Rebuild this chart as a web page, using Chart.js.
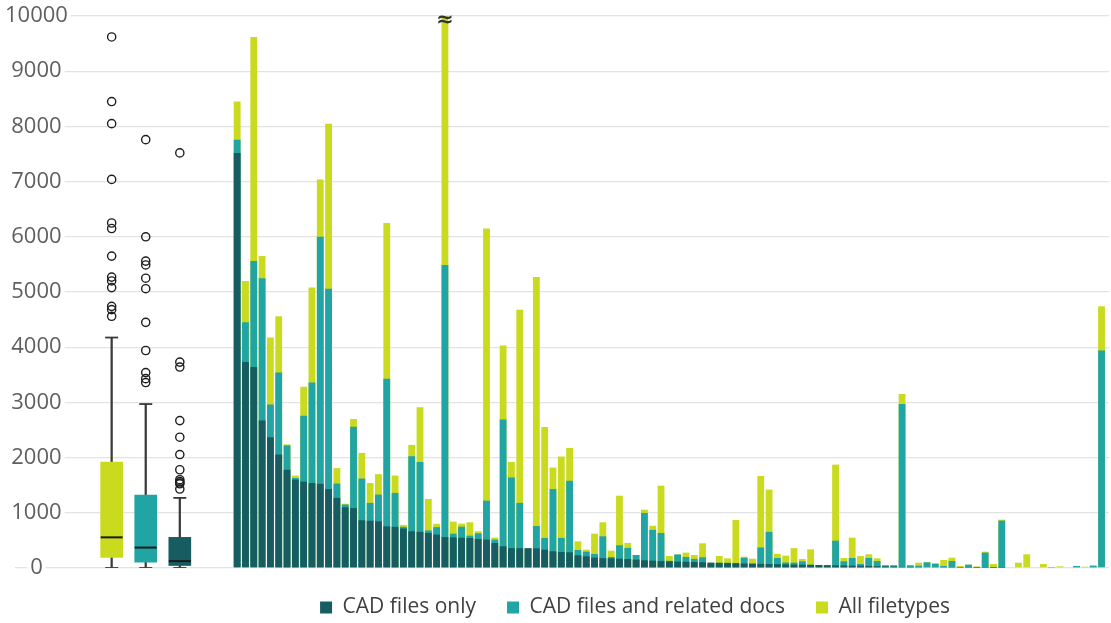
<!DOCTYPE html>
<html>
<head>
<meta charset="utf-8">
<title>Files per project</title>
<script src="https://cdn.jsdelivr.net/npm/chart.js@4.4.0/dist/chart.umd.min.js"></script>
<style>
  html, body { margin: 0; padding: 0; background: #ffffff; }
  #wrap { width: 1111px; height: 623px; position: relative; }
</style>
</head>
<body>
<div id="wrap"><canvas id="chart"></canvas></div>
<script>
// Series names (legend order)
const seriesNames = ['CAD files only', 'CAD files and related docs', 'All filetypes'];

// Per project: number of files found for each selection (sorted by "CAD files only")
const cadOnly = [
  7520, 3730, 3640, 2670, 2370, 2055, 1780, 1600, 1565, 1540,
  1525, 1430, 1270, 1100, 1085, 865, 855, 845, 755, 745,
  715, 665, 655, 635, 605, 560, 556, 548, 544, 526,
  514, 453, 393, 360, 358, 357, 355, 332, 302, 290,
  284, 230, 211, 187, 178, 175, 169, 163, 151, 139,
  133, 125, 120, 115, 112, 108, 104, 95, 92, 90,
  86, 82, 78, 75, 72, 70, 66, 62, 60, 57,
  54, 50, 48, 45, 42, 40, 37, 33, 30, 27,
  20, 18, 15, 12, 10, 8, 6, 5, 4, 3,
  2, 2, 1, 0, 0, 0, 0, 0, 0, 0,
  0, 0, 0, 0, 0
];
const cadDocs = [
  7760, 4450, 5560, 5250, 2960, 3540, 2220, 1630, 2760, 3360,
  6000, 5060, 1530, 1150, 2560, 1620, 1180, 1330, 3430, 1360,
  745, 2025, 1920, 680, 740, 5490, 622, 749, 586, 628,
  1220, 514, 2690, 1640, 1180, 357, 760, 545, 1430, 545,
  1580, 326, 296, 254, 574, 199, 411, 363, 236, 997,
  690, 634, 130, 245, 200, 165, 194, 95, 97, 95,
  90, 185, 80, 372, 655, 181, 100, 97, 121, 60,
  54, 50, 495, 121, 181, 72, 181, 125, 48, 48,
  2970, 48, 42, 103, 79, 36, 127, 5, 60, 3,
  278, 2, 858, 12, 0, 0, 12, 0, 6, 0,
  0, 36, 0, 42, 3940
];
const allTypes = [
  8450, 5200, 9620, 5650, 4175, 4560, 2240, 1675, 3285, 5080,
  7040, 8050, 1810, 1165, 2700, 2085, 1540, 1700, 6250, 1675,
  780, 2230, 2910, 1250, 800, 10000, 840, 804, 828, 665,
  6150, 550, 4030, 1920, 4680, 357, 5270, 2555, 1820, 2020,
  2175, 483, 332, 622, 828, 314, 1310, 453, 236, 1057,
  765, 1492, 217, 245, 278, 236, 447, 95, 218, 175,
  870, 205, 169, 1668, 1420, 257, 224, 360, 163, 338,
  54, 50, 1873, 181, 550, 218, 248, 175, 48, 48,
  3150, 48, 97, 103, 79, 145, 187, 36, 60, 30,
  296, 72, 876, 12, 97, 248, 12, 72, 6, 30,
  0, 36, 24, 42, 4740
];
// Projects whose bar runs past the top of the axis
const brokenBars = [26];

// Box plot summaries: All filetypes, CAD files and related docs, CAD files only
const boxWhiskerLow = [0, 0, 0];
const boxQ1 = [190, 105, 45];
const boxMedian = [555, 370, 125];
const boxQ3 = [1920, 1320, 555];
const boxWhiskerHigh = [4175, 2970, 1270];
const outliersAll = [9620, 8450, 8050, 7040, 6250, 6150, 5650, 5270, 5200, 5080, 4740, 4680, 4560];
const outliersDocs = [7760, 6000, 5560, 5490, 5250, 5060, 4450, 3940, 3540, 3430, 3360];
const outliersOnly = [7520, 3730, 3640, 2670, 2370, 2055, 1780, 1600, 1565, 1540, 1525, 1430];

// Y axis ticks
const yTicks = [0, 1000, 2000, 3000, 4000, 5000, 6000, 7000, 8000, 9000, 10000];

// ---- layout / style ----
const COLORS = { only: '#165c61', docs: '#20a4a4', all: '#c9da1f' };
const BOX_SLOTS = [-14.1, -10.0, -5.9];   // x positions of the three box plots
const X_MIN = -25.73, X_MAX = 105.9;
const FONT = '"Open Sans", "DejaVu Sans", sans-serif';

const projects = cadOnly.map((_, i) => i + 1);
const pts = (arr) => arr.map((v, i) => ({ x: projects[i], y: v }));
const boxColors = [COLORS.all, COLORS.docs, COLORS.only];

const outlierPts = []
  .concat(outliersAll.map(v => ({ x: BOX_SLOTS[0], y: v })))
  .concat(outliersDocs.map(v => ({ x: BOX_SLOTS[1], y: v })))
  .concat(outliersOnly.map(v => ({ x: BOX_SLOTS[2], y: v })));
const capPts = BOX_SLOTS.map((x, i) => ({ x, y: boxWhiskerHigh[i] }))
  .concat(BOX_SLOTS.map((x, i) => ({ x, y: boxWhiskerLow[i] })));

// Moves the legend row sideways/up after layout
const legendNudge = {
  id: 'legendNudge',
  afterLayout(chart, args, opts) {
    const lg = chart.legend;
    if (!lg) return;
    lg.left += opts.dx; lg.right += opts.dx;
    lg.top += opts.dy; lg.bottom += opts.dy;
  }
};

// Break sign on top of bars that exceed the axis
const breakMark = {
  id: 'breakMark',
  afterDatasetsDraw(chart) {
    const { ctx, scales: { x, y } } = chart;
    ctx.save();
    ctx.font = 'bold 21px "DejaVu Sans", sans-serif';
    ctx.fillStyle = '#333333';
    ctx.textAlign = 'center';
    ctx.textBaseline = 'middle';
    brokenBars.forEach(n => {
      ctx.fillText('\u2248', x.getPixelForValue(n), y.getPixelForValue(yTicks[yTicks.length - 1]) + 5);
    });
    ctx.restore();
  }
};

new Chart(document.getElementById('chart'), {
  type: 'bar',
  data: {
    datasets: [
      { label: seriesNames[0], data: pts(cadOnly), backgroundColor: COLORS.only, grouped: false, order: 0,
        borderWidth: 0, categoryPercentage: 0.82, barPercentage: 1 },
      { label: seriesNames[1], data: pts(cadDocs), backgroundColor: COLORS.docs, grouped: false, order: 1,
        borderWidth: 0, categoryPercentage: 0.82, barPercentage: 1 },
      { label: seriesNames[2], data: pts(allTypes), backgroundColor: COLORS.all, grouped: false, order: 2,
        borderWidth: 0, categoryPercentage: 0.82, barPercentage: 1 },
      { label: 'whiskers', data: BOX_SLOTS.map((x, i) => ({ x, y: [boxWhiskerLow[i], boxWhiskerHigh[i]] })),
        backgroundColor: '#3a3a3a', barThickness: 1.6, stack: 'box', order: 7 },
      { label: 'boxes', data: BOX_SLOTS.map((x, i) => ({ x, y: [boxQ1[i], boxQ3[i]] })),
        backgroundColor: boxColors, barThickness: 22, stack: 'box', order: 6 },
      { type: 'line', label: 'medians', data: BOX_SLOTS.map((x, i) => ({ x, y: boxMedian[i] })),
        showLine: false, pointStyle: 'line', pointRadius: 11, pointBorderWidth: 2,
        pointBorderColor: '#1a1a1a', order: -1 },
      { type: 'line', label: 'caps', data: capPts,
        showLine: false, pointStyle: 'line', pointRadius: 6.5, pointBorderWidth: 1.8,
        pointBorderColor: '#3a3a3a', order: -1 },
      { type: 'line', label: 'outliers', data: outlierPts,
        showLine: false, pointStyle: 'circle', pointRadius: 4.1, pointBorderWidth: 1.4,
        pointBackgroundColor: 'rgba(255,255,255,0)', pointBorderColor: '#1e1e1e', order: -1 }
    ]
  },
  options: {
    responsive: true,
    maintainAspectRatio: false,
    animation: false,
    events: [],
    layout: { autoPadding: false, padding: { left: 15, right: 2, top: 16, bottom: -7 } },
    scales: {
      x: { type: 'linear', min: X_MIN, max: X_MAX, display: false, offset: false },
      y: {
        min: yTicks[0], max: yTicks[yTicks.length - 1], stacked: false,
        afterBuildTicks: (axis) => { axis.ticks = yTicks.map(v => ({ value: v })); },
        ticks: {
          mirror: true, crossAlign: 'center', padding: -10,
          showLabelBackdrop: true, backdropColor: '#ffffff', backdropPadding: { x: 3, y: 1 },
          color: '#5f5f5f', font: { family: FONT, size: 22 },
          callback: (v) => String(v)
        },
        grid: { color: '#e3e3e3', lineWidth: 1.3, drawTicks: true, tickLength: 20, tickColor: 'rgba(0,0,0,0)' },
        border: { display: false }
      }
    },
    plugins: {
      legend: {
        position: 'bottom',
        labels: {
          boxWidth: 12, boxHeight: 12, padding: 31, color: '#404040',
          font: { family: FONT, size: 21 },
          filter: (item) => seriesNames.includes(item.text)
        }
      },
      tooltip: { enabled: false },
      legendNudge: { dx: 73, dy: -2 }
    }
  },
  plugins: [legendNudge, breakMark]
});
</script>
</body>
</html>
